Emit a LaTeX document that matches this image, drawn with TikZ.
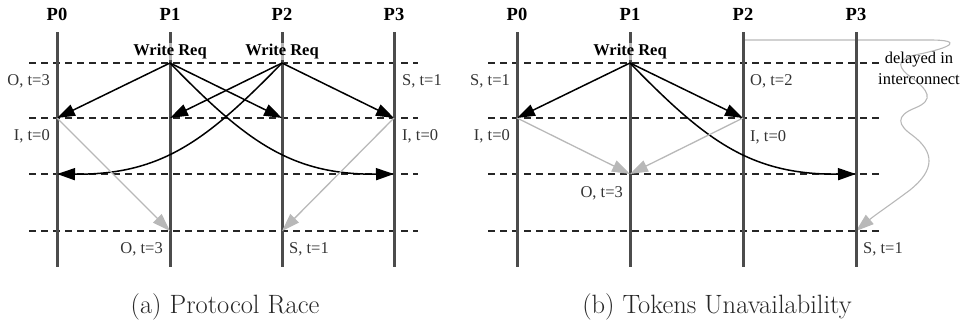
\documentclass[tikz,border=0pt]{standalone}
\usepackage{fontspec}
\newfontfamily\timesf{Liberation Serif}
\usetikzlibrary{arrows.meta}
\begin{document}
\begin{tikzpicture}[x=1pt,y=-1pt,
  proc/.style={line width=3pt,black!70},
  level/.style={line width=1.1pt,black!85,dash pattern=on 7pt off 5pt},
  msg/.style={line width=1.5pt,black,-{Triangle[length=18pt,width=12pt]}},
  tok/.style={line width=1.3pt,black!28,-{Triangle[length=18pt,width=12pt]}},
  plab/.style={font=\timesf\bfseries\fontsize{18.5}{20}\selectfont,anchor=base,inner sep=0pt},
  slab/.style={font=\timesf\fontsize{16.5}{18}\selectfont,inner sep=0pt,text=black!80},
  req/.style={font=\timesf\bfseries\fontsize{16.5}{19}\selectfont,anchor=base,inner sep=1pt,fill=white,fill opacity=0.6,text opacity=1},
  captext/.style={font=\fontsize{26.5}{31}\selectfont,anchor=base,inner sep=0pt,text=black!85}]
\useasboundingbox (0,0) rectangle (966,322);
% ---------- panel (a) ----------
\foreach \n/\x in {0/57,1/170,2/282,3/394}{
  \coordinate (a\n-top) at (\x,32);
  \coordinate (a\n-bot) at (\x,267);
  \coordinate (a\n-r1) at (\x,63);
  \coordinate (a\n-r2) at (\x,118);
  \coordinate (a\n-r3) at (\x,174);
  \coordinate (a\n-r4) at (\x,231);
}
\foreach \y/\k in {63/1,118/2,174/3,231/4}{
  \coordinate (aL\k) at (29,\y);
  \coordinate (aR\k) at (418,\y);
  \draw[level] (aL\k) -- (aR\k);
}
\foreach \n in {0,1,2,3}{\draw[proc] (a\n-top) -- (a\n-bot);}
\foreach \n/\x in {0/57,1/170,2/282,3/394}{\node[plab] (aP\n) at (\x,20) {P\n};}
\node[req] (aw1) at (170,55) {Write Req};
\node[req] (aw2) at (282,55) {Write Req};
\draw[msg] (a1-r1) -- (a0-r2);
\draw[msg] (a1-r1) -- (a2-r2);
\draw[msg] (a2-r1) -- (a1-r2);
\draw[msg] (a2-r1) -- (a3-r2);
\draw[msg] (a1-r1) .. controls (245,140) and (290,175) .. (a3-r3);
\draw[msg] (a2-r1) .. controls (207,140) and (162,175) .. (a0-r3);
\draw[tok] (a0-r2) -- (a1-r4);
\draw[tok] (a3-r2) -- (a2-r4);
\node[slab,anchor=base east] (as1) at (50,85) {O, t=3};
\node[slab,anchor=base east] (as2) at (50,140) {I, t=0};
\node[slab,anchor=base west] (as3) at (402,85) {S, t=1};
\node[slab,anchor=base west] (as4) at (402,140) {I, t=0};
\node[slab,anchor=base east] (as5) at (163,253) {O, t=3};
\node[slab,anchor=base west] (as6) at (289,253) {S, t=1};
\node[captext] (capa) at (225,313) {(a) Protocol Race};
% ---------- panel (b) ----------
\foreach \n/\x in {0/517,1/630,2/743,3/856}{
  \coordinate (b\n-top) at (\x,32);
  \coordinate (b\n-bot) at (\x,267);
  \coordinate (b\n-r1) at (\x,63);
  \coordinate (b\n-r2) at (\x,118);
  \coordinate (b\n-r3) at (\x,174);
  \coordinate (b\n-r4) at (\x,231);
}
\foreach \y/\k in {63/1,118/2,174/3,231/4}{
  \coordinate (bL\k) at (488,\y);
  \coordinate (bR\k) at (879,\y);
  \draw[level] (bL\k) -- (bR\k);
}
\coordinate (wstart) at (743,40);
\draw[line width=1.1pt,black!28,-{Triangle[length=18pt,width=12pt]}]
  (wstart) -- (930,40) .. controls (962,40) and (955,47) .. (915,55)
  .. controls (895,60) and (898,68) .. (912,78)
  .. controls (928,90) and (935,100) .. (915,108)
  .. controls (895,116) and (898,125) .. (912,135)
  .. controls (935,152) and (935,170) .. (910,190)
  .. controls (890,205) and (875,215) .. (b3-r4);
\foreach \n in {0,1,2,3}{\draw[proc] (b\n-top) -- (b\n-bot);}
\foreach \n/\x in {0/517,1/630,2/743,3/856}{\node[plab] (bP\n) at (\x,20) {P\n};}
\node[req] (bw1) at (630,55) {Write Req};
\draw[msg] (b1-r1) -- (b0-r2);
\draw[msg] (b1-r1) -- (b2-r2);
\draw[msg] (b1-r1) .. controls (705,140) and (750,175) .. (b3-r3);
\draw[tok] (b0-r2) -- (b1-r3);
\draw[tok] (b2-r2) -- (b1-r3);
\node[slab,anchor=base east] (bs1) at (510,85) {S, t=1};
\node[slab,anchor=base east] (bs2) at (510,140) {I, t=0};
\node[slab,anchor=base west] (bs3) at (750,85) {O, t=2};
\node[slab,anchor=base west] (bs4) at (750,141) {I, t=0};
\node[slab,anchor=base east] (bs5) at (623,197) {O, t=3};
\node[slab,anchor=base west] (bs6) at (863,253) {S, t=1};
\node[font=\timesf\fontsize{16.5}{20.5}\selectfont,align=center,anchor=base,inner sep=0pt] (delay) at (919,84) {delayed in\\interconnect};
\node[captext] (capb) at (717,313) {(b) Tokens Unavailability};
\end{tikzpicture}
\end{document}
